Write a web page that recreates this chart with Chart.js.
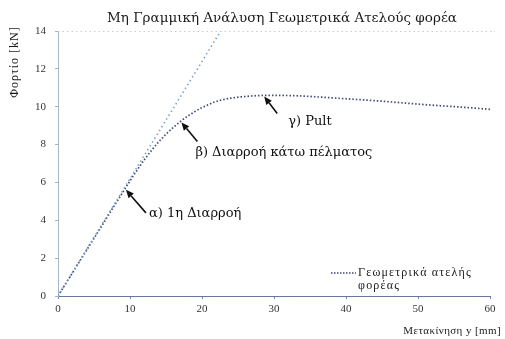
<!DOCTYPE html>
<html>
<head>
<meta charset="utf-8">
<script src="https://cdn.jsdelivr.net/npm/chart.js@4/dist/chart.umd.min.js"></script>
<style>
  html, body { margin: 0; padding: 0; background: #fff; }
  #c { display: block; }
</style>
</head>
<body>
<canvas id="c" width="505" height="339"></canvas>
<script>
// Displacement y [mm] and load [kN] of the geometrically imperfect member
const dispX = [0, 2, 4, 6, 8, 10, 11, 12, 13, 14, 15, 16, 17, 18, 19, 20, 22, 24, 26, 28, 30, 33, 36, 40, 44, 48, 52, 56, 60];
const loadCurve = [0, 1.22, 2.44, 3.66, 4.88, 6.08, 6.66, 7.2, 7.7, 8.15, 8.55, 8.9, 9.22, 9.5, 9.74, 9.95, 10.28, 10.45, 10.54, 10.59, 10.6, 10.58, 10.52, 10.42, 10.32, 10.2, 10.08, 9.98, 9.86];

// Linear-elastic reference line
const elasticX = [0, 22.6];
const elasticLoad = [0, 14];

// Axis tick values
const xTicks = [0, 10, 20, 30, 40, 50, 60];
const yTicks = [0, 2, 4, 6, 8, 10, 12, 14];

// Points of interest along the curve (displacement where each arrow points)
const markLabels = ['α) 1η Διαρροή', 'β) Διαρροή κάτω πέλματος', 'γ) Pult'];
const markDisp = [9.3, 17.0, 28.5];

const SERIF = '"Liberation Serif", "DejaVu Serif", "Times New Roman", serif';
const WIDE_SERIF = '"DejaVu Serif", "Liberation Serif", serif';

function loadAt(x) {
  for (let i = 1; i < dispX.length; i++) {
    if (x <= dispX[i]) {
      const t = (x - dispX[i - 1]) / (dispX[i] - dispX[i - 1]);
      return loadCurve[i - 1] + t * (loadCurve[i] - loadCurve[i - 1]);
    }
  }
  return loadCurve[loadCurve.length - 1];
}

// arrow tail offset from tip, and text offset from tail (pixels)
const markLayout = [
  { tail: [21, 24], text: [3, 1] },
  { tail: [17, 20], text: [-2, 11] },
  { tail: [14, 18], text: [11, 8] }
];

function arrow(ctx, x1, y1, x2, y2) {
  const ang = Math.atan2(y2 - y1, x2 - x1);
  const hl = 8, hw = 3.5;
  const bx = x2 - hl * Math.cos(ang), by = y2 - hl * Math.sin(ang);
  ctx.beginPath();
  ctx.moveTo(x1, y1);
  ctx.lineTo(bx, by);
  ctx.stroke();
  ctx.beginPath();
  ctx.moveTo(x2, y2);
  ctx.lineTo(bx + hw * Math.sin(ang), by - hw * Math.cos(ang));
  ctx.lineTo(bx - hw * Math.sin(ang), by + hw * Math.cos(ang));
  ctx.closePath();
  ctx.fill();
}

function spaced(ctx, px) {
  if ('letterSpacing' in ctx) ctx.letterSpacing = px + 'px';
}

const decorations = {
  id: 'decorations',
  beforeDatasetsDraw(chart) {
    const { ctx, chartArea: a } = chart;
    ctx.save();
    // faint dotted top frame line
    ctx.strokeStyle = '#c8ccd8';
    ctx.lineWidth = 1;
    ctx.setLineDash([1.5, 3]);
    ctx.beginPath();
    ctx.moveTo(a.left, a.top + 0.5);
    ctx.lineTo(a.right + 5, a.top + 0.5);
    ctx.stroke();
    ctx.restore();
  },
  afterDraw(chart) {
    const { ctx, scales } = chart;
    const xs = scales.x, ys = scales.y;
    ctx.save();
    ctx.fillStyle = '#1a1a1a';
    ctx.textBaseline = 'middle';

    // title
    ctx.font = '13.5px ' + WIDE_SERIF;
    ctx.textAlign = 'center';
    ctx.fillText('Μη Γραμμική Ανάλυση Γεωμετρικά Ατελούς φορέα', 282, 18);

    // axis titles
    ctx.font = '11px ' + SERIF;
    spaced(ctx, 0.4);
    ctx.textAlign = 'right';
    ctx.fillText('Μετακίνηση y [mm]', 501, 331);
    ctx.save();
    ctx.font = '12px ' + SERIF;
    spaced(ctx, 1);
    ctx.translate(15, 62);
    ctx.rotate(-Math.PI / 2);
    ctx.textAlign = 'center';
    ctx.fillText('Φορτίο [kN]', 0, 0);
    ctx.restore();

    // legend
    const ds = chart.data.datasets[1];
    ctx.save();
    ctx.strokeStyle = ds.borderColor;
    ctx.lineWidth = 1.3;
    ctx.setLineDash([1.5, 1.5]);
    ctx.beginPath();
    ctx.moveTo(331, 273);
    ctx.lineTo(356, 273);
    ctx.stroke();
    ctx.restore();
    ctx.font = '12px ' + SERIF;
    spaced(ctx, 1.2);
    ctx.textAlign = 'left';
    ctx.fillText('Γεωμετρικά ατελής', 358, 273);
    ctx.fillText('φορέας', 358, 286);

    // annotated points
    ctx.strokeStyle = '#111';
    ctx.fillStyle = '#111';
    ctx.lineWidth = 1.6;
    ctx.font = '13px ' + WIDE_SERIF;
    spaced(ctx, 0);
    markDisp.forEach((d, i) => {
      const tx = xs.getPixelForValue(d);
      const ty = ys.getPixelForValue(loadAt(d));
      const L = markLayout[i];
      const ax = tx + L.tail[0], ay = ty + L.tail[1];
      arrow(ctx, ax, ay, tx + 1, ty + 1);
      ctx.fillText(markLabels[i], ax + L.text[0], ay + L.text[1]);
    });
    ctx.restore();
  }
};

new Chart(document.getElementById('c'), {
  type: 'line',
  data: {
    datasets: [
      {
        label: 'Γραμμική',
        data: elasticX.map((x, i) => ({ x, y: elasticLoad[i] })),
        borderColor: '#76a4c6',
        borderWidth: 1.6,
        borderDash: [1.5, 3],
        pointRadius: 0,
        tension: 0
      },
      {
        label: 'Γεωμετρικά ατελής φορέας',
        data: dispX.map((x, i) => ({ x, y: loadCurve[i] })),
        borderColor: '#434a78',
        borderWidth: 1.7,
        borderDash: [1.5, 2],
        pointRadius: 0,
        cubicInterpolationMode: 'monotone'
      }
    ]
  },
  options: {
    responsive: false,
    animation: false,
    events: [],
    layout: { padding: { top: 31, right: 15, left: 0, bottom: 0 } },
    plugins: { legend: { display: false }, tooltip: { enabled: false }, title: { display: false } },
    scales: {
      x: {
        type: 'linear',
        min: 0,
        max: 60,
        afterFit(s) { s.height = 43; },
        afterBuildTicks(s) { s.ticks = xTicks.map(v => ({ value: v })); },
        grid: { drawOnChartArea: false, tickLength: 3, color: '#7a84a8' },
        border: { color: '#6a74a0', width: 1, dash: [4, 2] },
        ticks: { font: { family: SERIF, size: 11 }, color: '#333', padding: 4 }
      },
      y: {
        type: 'linear',
        min: 0,
        max: 14,
        afterFit(s) { s.width = 58; },
        afterBuildTicks(s) { s.ticks = yTicks.map(v => ({ value: v })); },
        grid: { drawOnChartArea: false, tickLength: 3, color: '#9fb0c8' },
        border: { color: '#a6b6cc', width: 1, dash: [2, 2] },
        ticks: { font: { family: SERIF, size: 11 }, color: '#333', padding: 9 }
      }
    }
  },
  plugins: [decorations]
});
</script>
</body>
</html>
